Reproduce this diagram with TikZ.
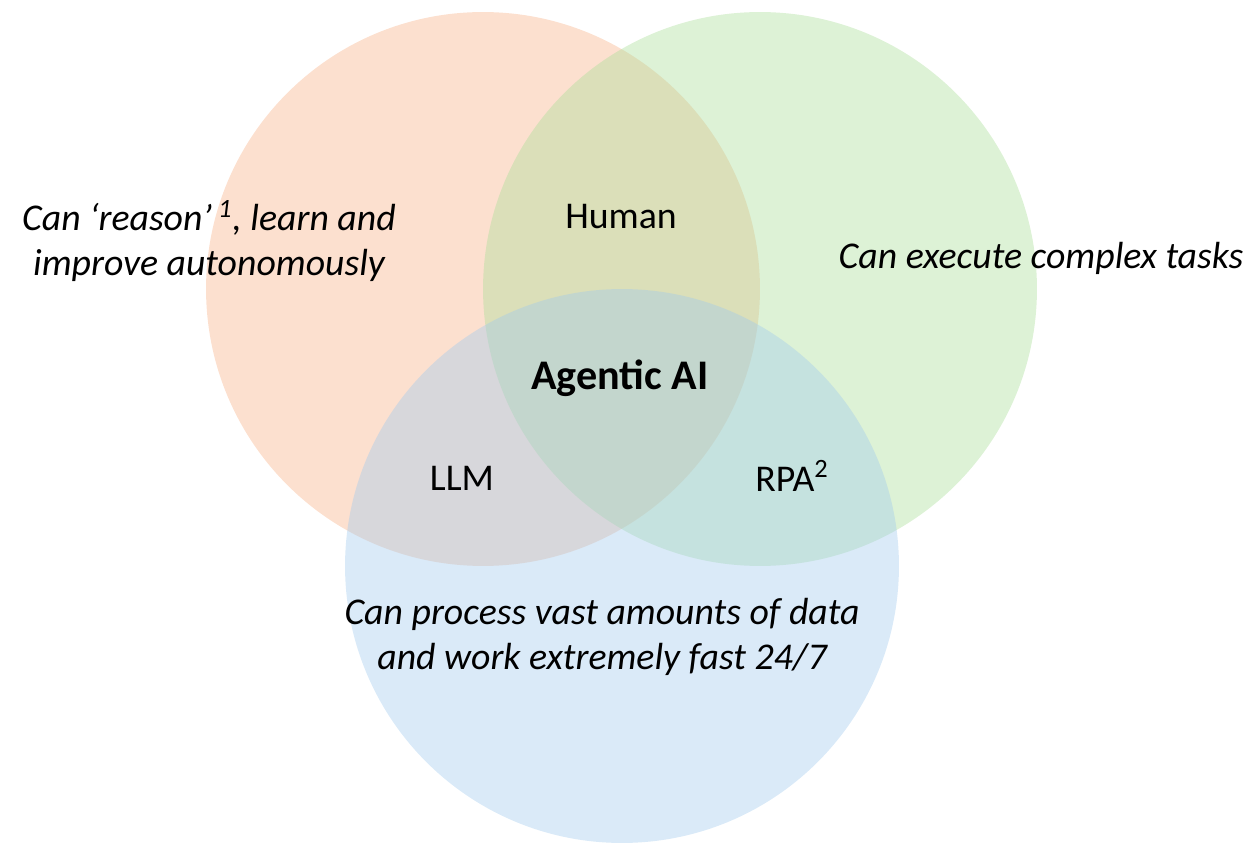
\documentclass[tikz,border=0pt]{standalone}
\usepackage{fontspec}
\setmainfont{Carlito}
\definecolor{setorange}{HTML}{F7B187}
\definecolor{setgreen}{HTML}{AADE98}
\definecolor{setblue}{HTML}{A2CAED}
\tikzset{
  venn/.style={draw=none,fill opacity=0.4},
  note/.style={font=\fontsize{21.5}{25.5}\selectfont\itshape,align=center},
  part/.style={font=\fontsize{21.5}{25.5}\selectfont}
}

\begin{document}
\begin{tikzpicture}[x=0.02cm,y=-0.02cm]
\useasboundingbox (0,0) rectangle (1250,854);
\filldraw[venn,fill=setorange](483,289) circle[radius=5.54cm];
\filldraw[venn,fill=setgreen](760,289) circle[radius=5.54cm];
\filldraw[venn,fill=setblue](622,566) circle[radius=5.54cm];
\node[note] (reason) at (209,241) {Can ‘reason’\,\textsuperscript{1}, learn and\\improve autonomously};
\node[note] (execute) at (1041,258) {Can execute complex tasks};
\node[note] (process) at (602,637) {Can process vast amounts of data\\and work extremely fast 24/7};
\node[part] (human) at (621,217) {Human};
\node[part] (llm) at (462,478) {LLM};
\node[part] (rpa) at (792,476) {RPA\textsuperscript{2}};
\node[font=\fontsize{24}{28}\selectfont\bfseries] (agentic) at (620,378) {Agentic AI};
\end{tikzpicture}
\end{document}
